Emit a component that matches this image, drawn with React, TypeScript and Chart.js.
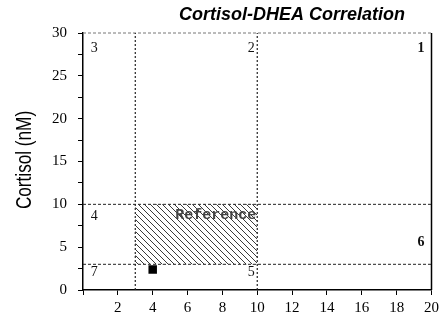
import React, { useEffect, useRef } from "react";
import { Chart, registerables } from "chart.js";

Chart.register(...registerables);

// ---- data ----
const xTicksMax = 20;
const yTicksMax = 30;
const verticalCuts = [3, 10];
const horizontalCuts = [3, 10];
const referenceBoxX = [3, 10];
const referenceBoxY = [3, 10];
const patientPoint = [{ x: 4, y: 2.4 }];
const regionLabels = ["1", "2", "3", "4", "5", "6", "7"];
const regionLabelX = [19.4, 9.65, 0.65, 0.65, 9.65, 19.4, 0.65];
const regionLabelY = [28.2, 28.2, 28.2, 8.6, 2.1, 5.5, 2.1];
const regionLabelBold = [true, false, false, false, false, true, false];
const referenceText = "Reference";
const titleText = "Cortisol-DHEA Correlation";
const yTitleText = "Cortisol (nM)";

function makeHatch(): CanvasPattern | string {
  const c = document.createElement("canvas");
  c.width = 6;
  c.height = 6;
  const g = c.getContext("2d");
  if (!g) return "#888";
  g.strokeStyle = "#3a3a3a";
  g.lineWidth = 1;
  g.beginPath();
  g.moveTo(0, 0);
  g.lineTo(6, 6);
  g.moveTo(-1, 5);
  g.lineTo(1, 7);
  g.moveTo(5, -1);
  g.lineTo(7, 1);
  g.stroke();
  const p = g.createPattern(c, "repeat");
  return p || "#888";
}

export default function App() {
  const ref = useRef<HTMLCanvasElement | null>(null);

  useEffect(() => {
    document.body.style.margin = "0";
    const canvas = ref.current;
    if (!canvas) return;

    const lineDs = (pts: { x: number; y: number }[], dash: number[], color = "#222", width = 1) => ({
      type: "line" as const,
      data: pts,
      borderColor: color,
      borderWidth: width,
      borderDash: dash,
      pointRadius: 0,
      fill: false,
      clip: false as any,
      tension: 0,
    });

    const datasets: any[] = [
      {
        type: "scatter",
        data: patientPoint,
        pointStyle: "rect",
        pointRadius: 6,
        backgroundColor: "#000",
        borderColor: "#000",
        borderWidth: 0,
      },
      ...verticalCuts.map((v) =>
        lineDs([{ x: v, y: 0 }, { x: v, y: yTicksMax }], [2, 2], "#222", 1.2)
      ),
      ...horizontalCuts.map((v) =>
        lineDs([{ x: 0, y: v }, { x: xTicksMax, y: v }], [3, 2], "#222", 1)
      ),
      lineDs([{ x: 0, y: yTicksMax }, { x: xTicksMax, y: yTicksMax }], [3, 2], "#777", 1),
      lineDs([{ x: xTicksMax, y: 0 }, { x: xTicksMax, y: yTicksMax }], [], "#000", 1.5),
      {
        type: "line",
        data: [
          { x: referenceBoxX[0], y: referenceBoxY[1] },
          { x: referenceBoxX[1], y: referenceBoxY[1] },
        ],
        borderWidth: 0,
        borderColor: "rgba(0,0,0,0)",
        pointRadius: 0,
        fill: { value: referenceBoxY[0] },
        backgroundColor: makeHatch(),
      },
    ];

    const annot = {
      id: "annot",
      afterDatasetsDraw(chart: any) {
        const ctx = chart.ctx;
        const xs = chart.scales.x;
        const ys = chart.scales.y;
        ctx.save();
        // region numbers
        ctx.fillStyle = "#111";
        ctx.textAlign = "center";
        ctx.textBaseline = "middle";
        regionLabels.forEach((t, i) => {
          ctx.font = (regionLabelBold[i] ? "bold " : "") + "14px 'Liberation Serif', serif";
          ctx.fillText(t, xs.getPixelForValue(regionLabelX[i]), ys.getPixelForValue(regionLabelY[i]));
        });
        // reference text
        ctx.font = "bold 15px 'Liberation Mono', monospace";
        ctx.fillStyle = "#444";
        ctx.textAlign = "right";
        ctx.fillText(referenceText, xs.getPixelForValue(referenceBoxX[1]) - 1, ys.getPixelForValue(8.75));
        // title
        ctx.fillStyle = "#000";
        ctx.font = "italic bold 18px 'Liberation Sans', Arial, sans-serif";
        ctx.textAlign = "center";
        ctx.fillText(titleText, 292, 15);
        // y title
        ctx.translate(25, 160);
        ctx.rotate(-Math.PI / 2);
        ctx.scale(0.78, 1);
        ctx.font = "22px 'Liberation Sans', sans-serif";
        ctx.fillText(yTitleText, 0, 0);
        ctx.restore();
      },
    };

    const chart = new Chart(canvas, {
      type: "scatter",
      data: { datasets },
      options: {
        animation: false,
        responsive: false,
        devicePixelRatio: 1,
        layout: { padding: { left: 0, top: 33, right: 11, bottom: 0 } },
        plugins: { legend: { display: false }, tooltip: { enabled: false }, title: { display: false } },
        scales: {
          x: {
            type: "linear",
            min: 0,
            max: xTicksMax,
            afterFit: (s: any) => {
              s.height = 24;
            },
            ticks: {
              stepSize: 2,
              color: "#000",
              padding: 4,
              maxRotation: 0,
              autoSkip: false,
              font: { family: "'Liberation Serif', serif", size: 15 },
              callback: (v: any) => (v === 0 ? "" : String(v)),
            },
            grid: { drawOnChartArea: false, drawTicks: true, tickLength: 5, tickColor: "#000" },
            border: { display: true, color: "#000", width: 1.5 },
          },
          y: {
            type: "linear",
            min: 0,
            max: yTicksMax,
            afterFit: (s: any) => {
              s.width = 83;
            },
            ticks: {
              stepSize: 2.5,
              color: "#000",
              padding: 11,
              autoSkip: false,
              font: { family: "'Liberation Serif', serif", size: 15 },
              callback: (v: any) => (v % 5 === 0 ? String(v) : ""),
            },
            grid: { drawOnChartArea: false, drawTicks: true, tickLength: 5, tickColor: "#000" },
            border: { display: true, color: "#000", width: 1.5 },
          },
        },
      },
      plugins: [annot],
    });
    return () => chart.destroy();
  }, []);

  return (
    <div style={{ position: "absolute", left: 0, top: 0, width: 443, height: 314, background: "#fff" }}>
      <canvas ref={ref} width={443} height={314} />
    </div>
  );
}
